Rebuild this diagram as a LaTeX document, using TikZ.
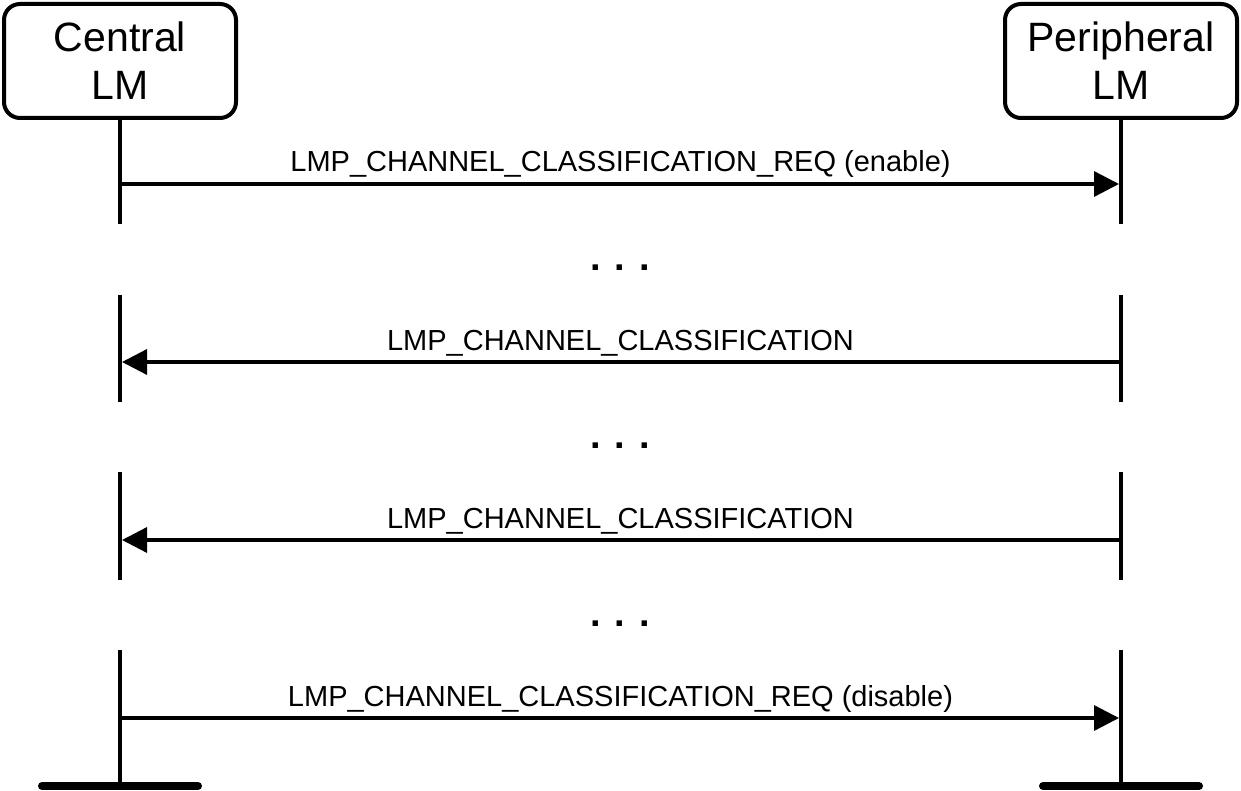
\documentclass[tikz,border=0pt]{standalone}
\usepackage{fontspec}
\setmainfont{Liberation Sans}
\usepackage{tikz}
\usetikzlibrary{arrows.meta,positioning}

\tikzset{
  actor/.style={draw,line width=4pt,rounded corners=16pt,minimum width=232pt,
    minimum height=114pt,align=center,inner sep=0pt,
    font=\fontsize{41}{48}\selectfont},
  life/.style={line width=4pt},
  endbar/.style={line width=8pt,line cap=round},
  msg/.style={line width=3.3pt,-{Triangle[length=25pt,width=25pt]},shorten >=2pt},
  msglabel/.style={midway,anchor=base,yshift=12pt,inner sep=0pt,
    font=\fontsize{29}{34}\selectfont},
  gap/.style={inner sep=0pt,font=\bfseries\fontsize{38}{40}\selectfont}
}

\begin{document}
\begin{tikzpicture}[x=1pt,y=-1pt]
  \useasboundingbox (0,0) rectangle (1241,791);

  % the two link managers
  \node[actor] (central) at (120,61) {Central\\LM};
  \node[actor] (periph) at (1121,61) {Peripheral\\LM};

  % points on the lifelines
  \coordinate (c1) at (120,184);  \coordinate (p1) at (1121,184);
  \coordinate (c2) at (120,362);  \coordinate (p2) at (1121,362);
  \coordinate (c3) at (120,540);  \coordinate (p3) at (1121,540);
  \coordinate (c4) at (120,718);  \coordinate (p4) at (1121,718);
  \coordinate (cend) at (120,786); \coordinate (pend) at (1121,786);

  % lifelines, broken at the gaps
  \draw[life] (central.south) -- (120,224);
  \draw[life] (periph.south) -- (1121,224);
  \foreach \top/\bot in {295/402,472/580} {
    \draw[life] (120,\top) -- (120,\bot);
    \draw[life] (1121,\top) -- (1121,\bot);
  }
  \draw[life] (120,650) -- (cend);
  \draw[life] (1121,650) -- (pend);

  % ends of the lifelines
  \draw[endbar] ([xshift=-78pt]cend) -- ([xshift=78pt]cend);
  \draw[endbar] ([xshift=-78pt]pend) -- ([xshift=78pt]pend);

  % messages
  \draw[msg] (c1) -- (p1) node[msglabel] {LMP\_CHANNEL\_CLASSIFICATION\_REQ (enable)};
  \draw[msg] (p2) -- (c2) node[msglabel] {LMP\_CHANNEL\_CLASSIFICATION};
  \draw[msg] (p3) -- (c3) node[msglabel] {LMP\_CHANNEL\_CLASSIFICATION};
  \draw[msg] (c4) -- (p4) node[msglabel] {LMP\_CHANNEL\_CLASSIFICATION\_REQ (disable)};

  % gaps
  \node[gap] (gap1) at (620,268) {. . .};
  \node[gap] (gap2) at (620,446) {. . .};
  \node[gap] (gap3) at (620,624) {. . .};
\end{tikzpicture}
\end{document}
